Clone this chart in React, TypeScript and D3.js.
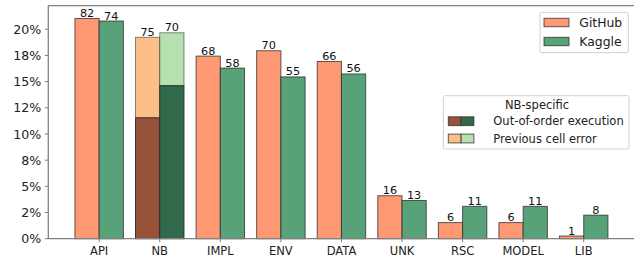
import { useEffect, useRef } from 'react';
import * as d3 from 'd3';

const categories = ['API', 'NB', 'IMPL', 'ENV', 'DATA', 'UNK', 'RSC', 'MODEL', 'LIB'];
const githubCounts = [82, 75, 68, 70, 66, 16, 6, 6, 1];
const kaggleCounts = [74, 70, 58, 55, 56, 13, 11, 11, 8];
// NB split: out-of-order execution part, rest is previous cell error
const nbOutOfOrderGithub = 45;
const nbOutOfOrderKaggle = 52;
const yTicks = [0, 2.5, 5, 7.5, 10, 12.5, 15, 17.5, 20];
const yTickLabels = ['0%', '2%', '5%', '8%', '10%', '12%', '15%', '18%', '20%'];

const W = 634;
const H = 255;
const FONT = '"DejaVu Sans", sans-serif';

const colors = {
  github: '#ff9973',
  kaggle: '#58a279',
  githubDark: '#98523a',
  kaggleDark: '#306a4a',
  githubLight: '#fdbf88',
  kaggleLight: '#b5e1b0',
};

export default function App() {
  const ref = useRef<SVGSVGElement>(null);

  useEffect(() => {
    if (!ref.current) return;
    const svg = d3.select(ref.current);
    svg.selectAll('*').remove();

    const ghTotal = d3.sum(githubCounts);
    const kgTotal = d3.sum(kaggleCounts);
    const ghPct = githubCounts.map((c) => (c / ghTotal) * 100);
    const kgPct = kaggleCounts.map((c) => (c / kgTotal) * 100);

    const x = d3.scaleLinear().domain([-0.84, 8.84]).range([48.3, 634.6]);
    const y = d3.scaleLinear().domain([0, 22.25]).range([238.7, 5.7]);
    const bw = 0.4;
    const nbIdx = categories.indexOf('NB');

    const g = svg.append('g');
    const edge = '#2a2a2a';

    const bar = (x0: number, v0: number, v1: number, fill: string, op = 0.75) =>
      g
        .append('rect')
        .attr('x', x(x0))
        .attr('y', y(v1))
        .attr('width', x(x0 + bw) - x(x0))
        .attr('height', y(v0) - y(v1))
        .attr('fill', fill)
        .attr('stroke', edge)
        .attr('stroke-opacity', op)
        .attr('stroke-width', 1);

    categories.forEach((c, i) => {
      if (i === nbIdx) {
        const ghSplit = (nbOutOfOrderGithub / ghTotal) * 100;
        const kgSplit = (nbOutOfOrderKaggle / kgTotal) * 100;
        bar(i - bw, ghSplit, ghPct[i], colors.githubLight, 0.55);
        bar(i - bw, 0, ghSplit, colors.githubDark, 0.9);
        bar(i, kgSplit, kgPct[i], colors.kaggleLight, 0.55);
        bar(i, 0, kgSplit, colors.kaggleDark, 0.9);
      } else {
        bar(i - bw, 0, ghPct[i], colors.github);
        bar(i, 0, kgPct[i], colors.kaggle);
      }
    });

    // count labels
    const label = (cx: number, v: number, t: number) =>
      g
        .append('text')
        .attr('x', x(cx))
        .attr('y', y(v) - 1.5)
        .attr('text-anchor', 'middle')
        .attr('font-family', FONT)
        .attr('font-size', 11.3)
        .attr('fill', '#111')
        .text(t);
    categories.forEach((c, i) => {
      label(i - bw / 2, ghPct[i], githubCounts[i]);
      label(i + bw / 2, kgPct[i], kaggleCounts[i]);
    });

    // axes
    const axisColor = '#808080';
    const [x0, x1] = x.range();
    svg.append('line').attr('x1', x0).attr('x2', x1).attr('y1', y(0)).attr('y2', y(0))
      .attr('stroke', axisColor).attr('stroke-width', 1.3);
    svg.append('line').attr('x1', x0).attr('x2', x1).attr('y1', y.range()[1]).attr('y2', y.range()[1])
      .attr('stroke', axisColor).attr('stroke-width', 1.3);
    svg.append('line').attr('x1', x0).attr('x2', x0).attr('y1', y(0)).attr('y2', y.range()[1])
      .attr('stroke', axisColor).attr('stroke-width', 1.3);

    yTicks.forEach((t, i) => {
      svg.append('line').attr('x1', x0 - 3.5).attr('x2', x0).attr('y1', y(t)).attr('y2', y(t))
        .attr('stroke', axisColor).attr('stroke-width', 1);
      svg.append('text').attr('x', x0 - 7).attr('y', y(t)).attr('dy', '0.36em')
        .attr('text-anchor', 'end').attr('font-family', FONT).attr('font-size', 12.6)
        .attr('fill', '#222').text(yTickLabels[i]);
    });

    categories.forEach((c, i) => {
      svg.append('line').attr('x1', x(i)).attr('x2', x(i)).attr('y1', y(0)).attr('y2', y(0) + 3.5)
        .attr('stroke', axisColor).attr('stroke-width', 1);
      svg.append('text').attr('x', x(i)).attr('y', 255.3)
        .attr('text-anchor', 'middle').attr('font-family', FONT).attr('font-size', 11.5)
        .attr('fill', '#222').text(c);
    });

    // legend 1
    const l1 = svg.append('g');
    l1.append('rect').attr('x', 540).attr('y', 12.3).attr('width', 88.3).attr('height', 40.4)
      .attr('rx', 2).attr('fill', 'white').attr('fill-opacity', 0.8).attr('stroke', '#d0d0d0');
    [['GitHub', colors.github], ['Kaggle', colors.kaggle]].forEach(([name, col], i) => {
      const yy = 18.3 + i * 19;
      l1.append('rect').attr('x', 544).attr('y', yy).attr('width', 25).attr('height', 8.4)
        .attr('fill', col).attr('stroke', edge).attr('stroke-opacity', 0.75);
      l1.append('text').attr('x', 579.3).attr('y', yy + 4.2).attr('dy', '0.36em')
        .attr('font-family', FONT).attr('font-size', 12.4).attr('fill', '#222').text(name);
    });

    // legend 2
    const l2 = svg.append('g');
    l2.append('rect').attr('x', 443.3).attr('y', 95.7).attr('width', 185.7).attr('height', 53.3)
      .attr('rx', 2).attr('fill', 'white').attr('fill-opacity', 0.8).attr('stroke', '#d0d0d0');
    l2.append('text').attr('x', 537).attr('y', 105).attr('dy', '0.36em').attr('text-anchor', 'middle')
      .attr('font-family', FONT).attr('font-size', 11.5).attr('fill', '#222').text('NB-specific');
    [
      ['Out-of-order execution', colors.githubDark, colors.kaggleDark],
      ['Previous cell error', colors.githubLight, colors.kaggleLight],
    ].forEach(([name, c1, c2], i) => {
      const yy = 116.8 + i * 17.3;
      l2.append('rect').attr('x', 448.3).attr('y', yy).attr('width', 12.8).attr('height', 8.8)
        .attr('fill', c1).attr('stroke', edge).attr('stroke-opacity', 0.75);
      l2.append('rect').attr('x', 461.1).attr('y', yy).attr('width', 12.8).attr('height', 8.8)
        .attr('fill', c2).attr('stroke', edge).attr('stroke-opacity', 0.75);
      l2.append('text').attr('x', 493.3).attr('y', yy + 4.4).attr('dy', '0.36em')
        .attr('font-family', FONT).attr('font-size', 11.5).attr('fill', '#222').text(name);
    });
  }, []);

  return (
    <svg
      ref={ref}
      width={W}
      height={H}
      style={{ position: 'absolute', left: 0, top: 0, background: 'white' }}
    />
  );
}
